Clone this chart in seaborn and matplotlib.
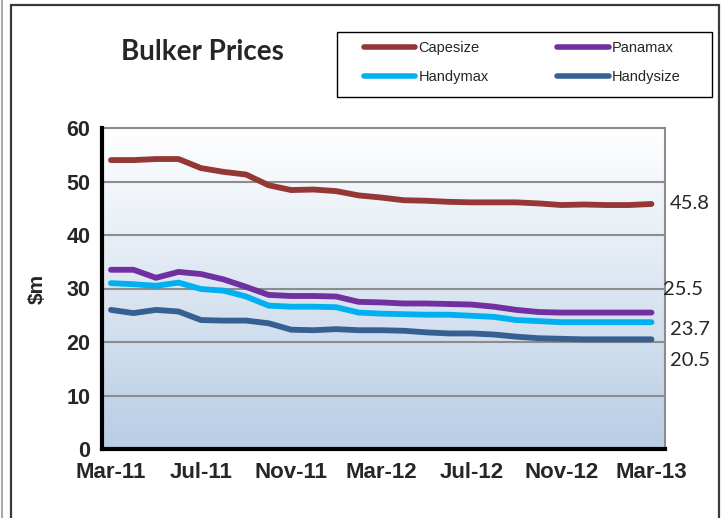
import numpy as np
import pandas as pd
import matplotlib
matplotlib.use("Agg")
import matplotlib.pyplot as plt
import seaborn as sns
from matplotlib.patches import Rectangle
from matplotlib.lines import Line2D

months = ["Mar-11", "Apr-11", "May-11", "Jun-11", "Jul-11", "Aug-11", "Sep-11", "Oct-11",
          "Nov-11", "Dec-11", "Jan-12", "Feb-12", "Mar-12", "Apr-12", "May-12", "Jun-12",
          "Jul-12", "Aug-12", "Sep-12", "Oct-12", "Nov-12", "Dec-12", "Jan-13", "Feb-13", "Mar-13"]
capesize = [54.0, 54.0, 54.2, 54.2, 52.5, 51.8, 51.3, 49.3, 48.4, 48.5, 48.2, 47.4, 47.0,
            46.5, 46.4, 46.2, 46.1, 46.1, 46.1, 45.9, 45.6, 45.7, 45.6, 45.6, 45.8]
panamax = [33.5, 33.5, 32.0, 33.1, 32.7, 31.7, 30.3, 28.8, 28.6, 28.6, 28.5, 27.5, 27.4,
           27.2, 27.2, 27.1, 27.0, 26.6, 26.0, 25.6, 25.5, 25.5, 25.5, 25.5, 25.5]
handymax = [31.0, 30.8, 30.5, 31.1, 29.9, 29.6, 28.5, 26.8, 26.6, 26.6, 26.5, 25.5, 25.3,
            25.2, 25.1, 25.1, 24.9, 24.7, 24.1, 23.9, 23.7, 23.7, 23.7, 23.7, 23.7]
handysize = [26.0, 25.4, 26.0, 25.7, 24.1, 24.0, 24.0, 23.5, 22.3, 22.2, 22.4, 22.2, 22.2,
             22.1, 21.8, 21.6, 21.6, 21.4, 21.0, 20.7, 20.6, 20.5, 20.5, 20.5, 20.5]
series_names = ["Capesize", "Panamax", "Handymax", "Handysize"]
end_labels = ["45.8", "25.5", "23.7", "20.5"]
tick_labels = ["Mar-11", "Jul-11", "Nov-11", "Mar-12", "Jul-12", "Nov-12", "Mar-13"]

colors = {"Capesize": "#953735", "Panamax": "#7030a0",
          "Handymax": "#00b0f0", "Handysize": "#376092"}

df = pd.DataFrame({"Month": months, "Capesize": capesize, "Panamax": panamax,
                   "Handymax": handymax, "Handysize": handysize})
df["idx"] = np.arange(len(months))
long = df.melt(id_vars=["Month", "idx"], value_vars=series_names,
               var_name="Series", value_name="Price")

sns.set_theme(style="white")
plt.rcParams["font.family"] = ["Liberation Sans", "DejaVu Sans"]

fig = plt.figure(figsize=(7.23, 5.18), dpi=100)
ax = fig.add_axes([101.5/723, 1-449/518, (665-101.5)/723, (449-128)/518])

# gradient background
grad = np.linspace(1, 0, 256).reshape(-1, 1)
top = np.array([1.0, 1.0, 1.0])
bot = np.array([0xb9, 0xcd, 0xe5]) / 255.0
img = top[None, None, :] * grad[:, :, None] + bot[None, None, :] * (1 - grad[:, :, None])
ax.imshow(img, extent=[0, 1, 0, 1], transform=ax.transAxes, aspect="auto", zorder=0)

for y in range(10, 60, 10):
    ax.axhline(y, color="#8c8c8c", lw=1.5, zorder=1)

sns.lineplot(data=long, x="idx", y="Price", hue="Series", palette=colors,
             hue_order=series_names, linewidth=4.2, ax=ax, legend=False, zorder=3,
             solid_capstyle="round", solid_joinstyle="round")

ax.set_xlim(-0.42, 24.6)
ax.set_ylim(0, 60)
ax.set_yticks(range(0, 61, 10))
ax.set_yticklabels([str(v) for v in range(0, 61, 10)], fontsize=15.5, fontweight="bold")
ax.set_xticks(np.arange(0, 25, 4))
ax.set_xticklabels(tick_labels, fontsize=16, fontweight="bold")
ax.set_xticks(np.arange(3.5, 24, 4), minor=True)
ax.tick_params(axis="x", which="major", length=0, pad=9)
ax.tick_params(axis="x", which="minor", length=5, width=3, color="black", direction="out")
ax.tick_params(axis="y", length=0, pad=8)
ax.set_xlabel("")
ax.set_ylabel("$m", fontsize=15, fontweight="bold", labelpad=14)

for side in ["top", "right"]:
    ax.spines[side].set_color("#8c8c8c")
    ax.spines[side].set_linewidth(1.5)
for side in ["left", "bottom"]:
    ax.spines[side].set_color("black")
    ax.spines[side].set_linewidth(3)
    ax.spines[side].set_zorder(5)

# end labels
label_pos = [(24.8, 45.8), (24.5, 29.9), (24.8, 22.4), (24.8, 16.6)]
for txt, (xp, yp) in zip(end_labels, label_pos):
    ax.text(xp, yp, txt, fontsize=14.5, family=["Lato", "DejaVu Sans"],
            ha="left", va="center", clip_on=False, zorder=6)

fig.text(202/723, 1-52/518, "Bulker Prices", fontsize=20, fontweight="bold",
         family=["Lato", "DejaVu Sans"], ha="center", va="center")

# legend (row order: Capesize, Panamax / Handymax, Handysize)
leg_order = ["Capesize", "Handymax", "Panamax", "Handysize"]
handles = [Line2D([0], [0], color=colors[s], lw=4) for s in leg_order]
leg = fig.legend(handles, leg_order, ncol=2, loc="upper left",
                 bbox_to_anchor=(364/723, 1-41/518),
                 fontsize=10.5, handlelength=3.5, handletextpad=0.25,
                 columnspacing=4.7, frameon=False, borderpad=0,
                 labelspacing=1.05, borderaxespad=0)
fig.patches.append(Rectangle((337/723, 1-97/518), 375/723, 65/518,
                             transform=fig.transFigure, fill=False,
                             edgecolor="black", lw=1.0))

# outer border
fig.patches.append(Rectangle((11/723, -0.02), (719-11)/723, 1-5/518+0.02,
                             transform=fig.transFigure, fill=False,
                             edgecolor="#3a3a3a", lw=1.6))
fig.lines.append(Line2D([1.5/723, 1.5/723], [0, 1], transform=fig.transFigure,
                        color="#aaaaaa", lw=1.5))

fig.savefig("out.png", dpi=100)
